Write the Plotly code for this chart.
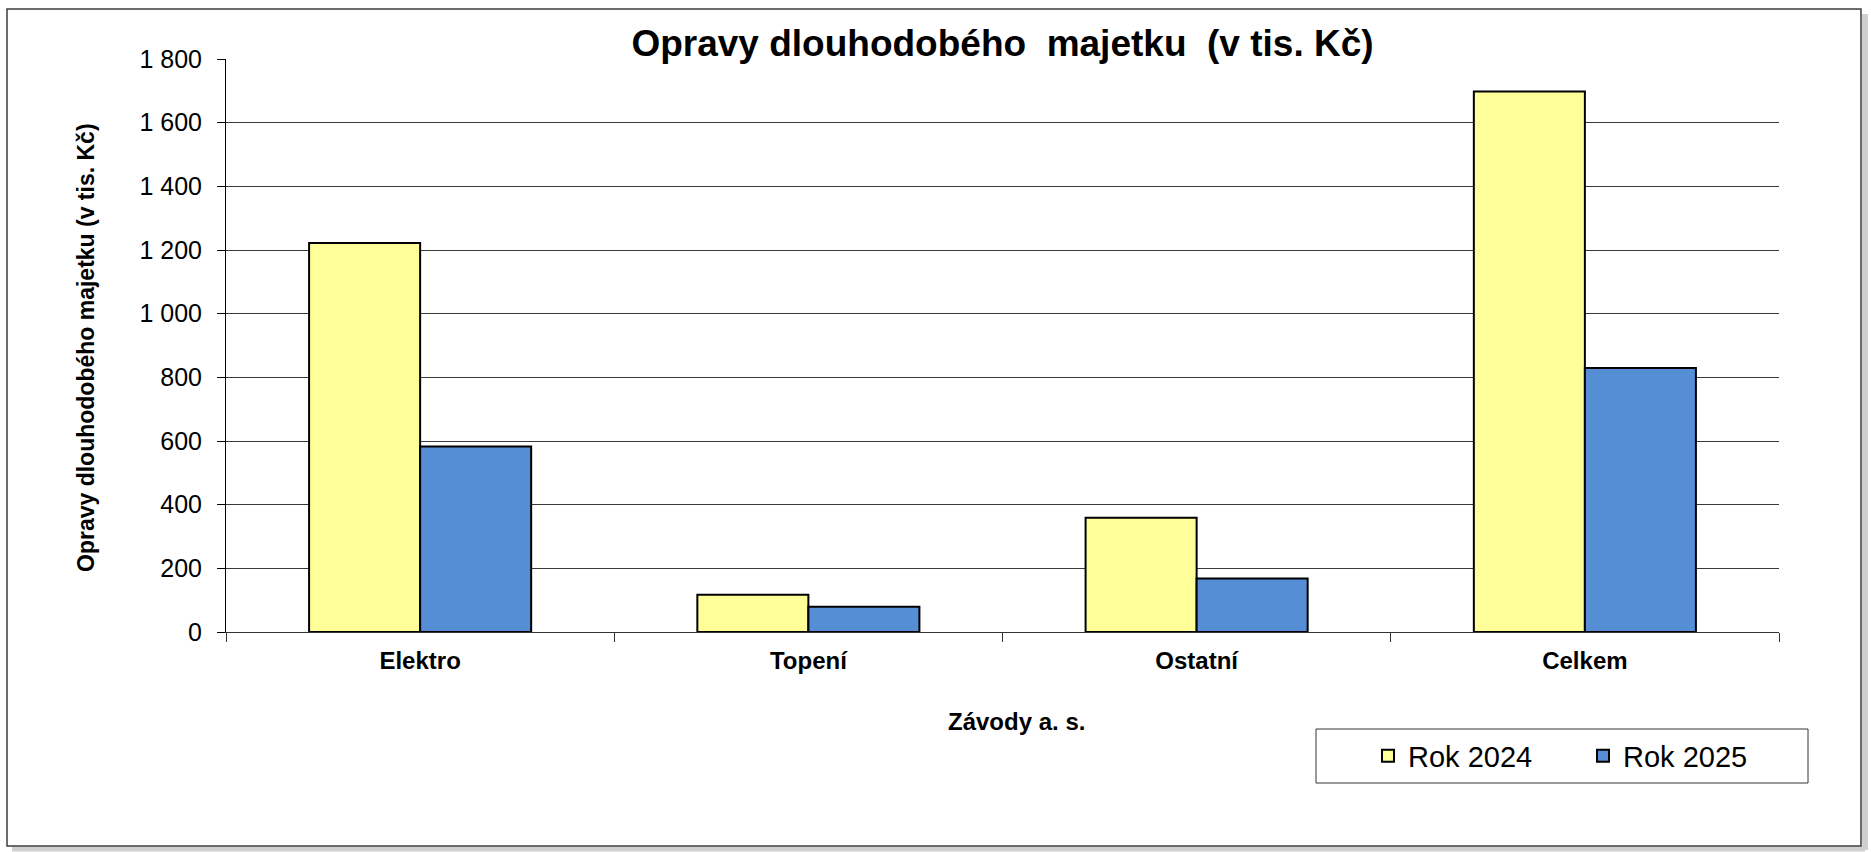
import plotly.graph_objects as go

# data (v tis. Kč)
categories = ["Elektro", "Topení", "Ostatní", "Celkem"]
rok_2024 = [1222, 117, 359, 1698]
rok_2025 = [583, 79, 168, 829]
y_ticks = [0, 200, 400, 600, 800, 1000, 1200, 1400, 1600, 1800]
grid_vals = [200, 400, 600, 800, 1000, 1200, 1400, 1600]

FONT = "Liberation Sans, Arial, sans-serif"
W, H = 1871, 852
# plot area in pixels
L, R, T, B = 226, 1779, 59, 632


def px_x(x):
    return (x - L) / (R - L)


def px_y(y):
    return (B - y) / (B - T)


fig = go.Figure()
fig.add_trace(go.Bar(
    x=categories, y=rok_2024, name="Rok 2024",
    marker=dict(color="#FFFF99", line=dict(color="black", width=2)),
))
fig.add_trace(go.Bar(
    x=categories, y=rok_2025, name="Rok 2025",
    marker=dict(color="#558ED5", line=dict(color="black", width=2)),
))

fig.update_layout(
    width=W, height=H,
    margin=dict(l=L, r=W - R, t=T, b=H - B, pad=0),
    paper_bgcolor="white", plot_bgcolor="white",
    separators=", ",
    barmode="group", bargap=0.428, bargroupgap=0,
    font=dict(family=FONT, color="black"),
    title=dict(
        text="Opravy dlouhodobého \u00a0majetku \u00a0(v tis. Kč)",
        font=dict(size=37, weight="bold", family=FONT),
        x=0.5, xref="paper", xanchor="center",
        y=1 - 43 / H, yref="container", yanchor="middle",
    ),
    showlegend=True,
    legend=dict(
        orientation="h", x=px_x(1368), y=px_y(756), xanchor="left", yanchor="middle",
        font=dict(size=29, family=FONT), bgcolor="rgba(0,0,0,0)",
        entrywidth=170, itemwidth=30,
    ),
)

fig.update_xaxes(
    showline=True, linecolor="#333", linewidth=1,
    ticks="outside", tickson="boundaries", ticklen=9, tickcolor="#333",
    tickfont=dict(size=24, weight="bold", family=FONT), ticklabelstandoff=7,
    showgrid=False,
)
fig.update_yaxes(
    range=[0, 1800], tickvals=y_ticks, tickformat=",d",
    showline=True, linecolor="black", linewidth=1,
    ticks="outside", ticklen=8, tickcolor="black",
    tickfont=dict(size=25, family=FONT), ticklabelstandoff=10,
    showgrid=False, zeroline=False,
    minor=dict(tickvals=grid_vals, showgrid=True, gridcolor="#3a3a3a", gridwidth=1, ticks=""),
)

# axis titles
fig.add_annotation(
    text="Opravy dlouhodobého majetku (v tis. Kč)", textangle=-90,
    xref="paper", yref="paper", x=px_x(86), y=px_y(348),
    xanchor="center", yanchor="middle",
    showarrow=False, font=dict(size=23, weight="bold", family=FONT),
)
fig.add_annotation(
    text="Závody a. s.",
    xref="paper", yref="paper", x=px_x(1016), y=px_y(721),
    xanchor="center", yanchor="middle",
    showarrow=False, font=dict(size=24, weight="bold", family=FONT),
)

# legend frame
fig.add_shape(type="rect", xref="paper", yref="paper",
              x0=px_x(1316), x1=px_x(1808), y0=px_y(729), y1=px_y(783),
              line=dict(color="#333", width=1), fillcolor="rgba(0,0,0,0)")

# outer chart frame with soft shadow
fig.add_shape(type="line", xref="paper", yref="paper",
              x0=px_x(1865), x1=px_x(1865), y0=px_y(14), y1=px_y(850),
              line=dict(color="#cfcfcf", width=6), layer="below")
fig.add_shape(type="line", xref="paper", yref="paper",
              x0=px_x(12), x1=px_x(1865), y0=px_y(849), y1=px_y(849),
              line=dict(color="#cfcfcf", width=5), layer="below")
fig.add_shape(type="rect", xref="paper", yref="paper",
              x0=px_x(7), x1=px_x(1861), y0=px_y(9), y1=px_y(846),
              line=dict(color="#3c3c3c", width=1.5), fillcolor="rgba(0,0,0,0)", layer="below")

# drop the default body margin so the figure sits at the page origin
fig.write_html("out.html", config={"displayModeBar": False},
               post_script="document.body.style.margin = '0';")
